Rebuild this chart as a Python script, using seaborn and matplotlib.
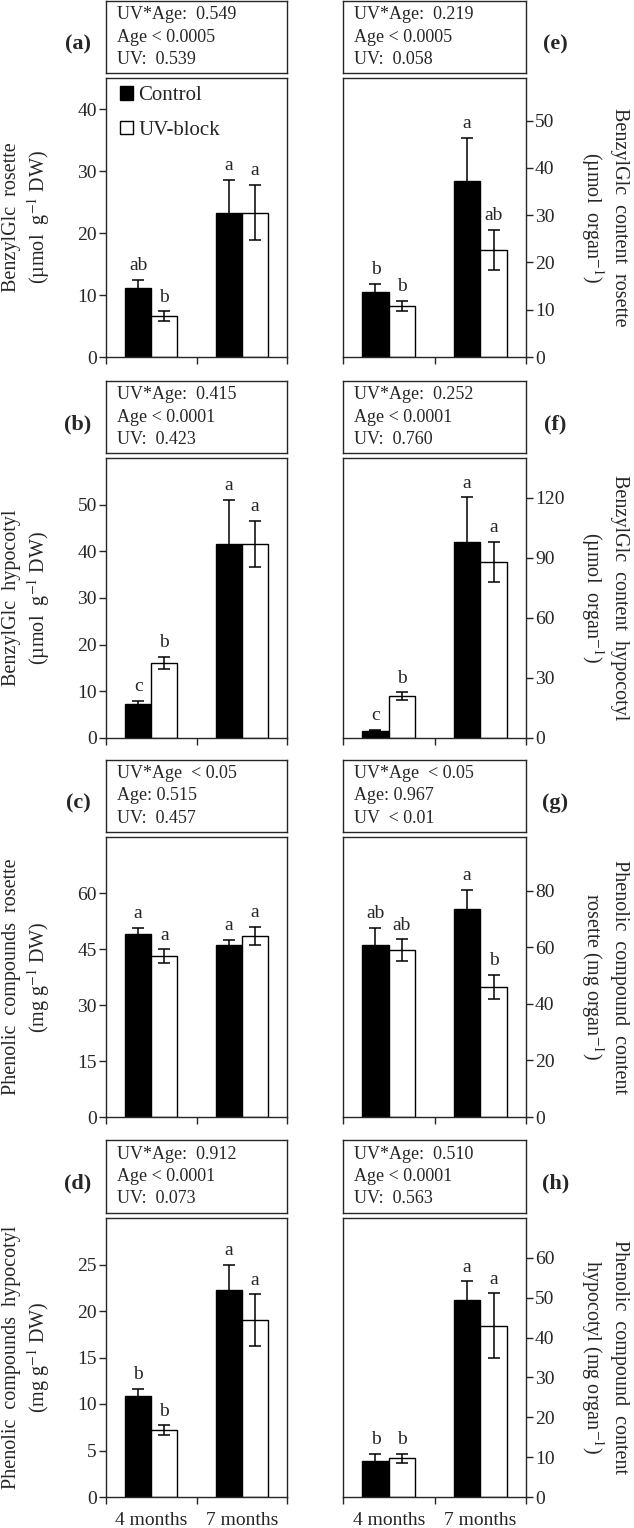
import numpy as np
import pandas as pd
import matplotlib
matplotlib.use("Agg")
import matplotlib.pyplot as plt
import seaborn as sns

sns.set_style("ticks")
plt.rcParams["font.family"] = ["Liberation Serif", "DejaVu Serif"]
plt.rcParams["mathtext.fontset"] = "stix"

ages = ["4 months", "7 months"]
treatments = ["Control", "UV-block"]

# means and error, order: [4 months, 7 months]
a_control, a_uv = [11.2, 23.3], [6.6, 23.3]
a_control_err, a_uv_err = [1.3, 5.3], [0.75, 4.5]
b_control, b_uv = [7.3, 41.6], [16.1, 41.6]
b_control_err, b_uv_err = [0.7, 9.5], [1.25, 4.9]
c_control, c_uv = [48.9, 46.0], [43.1, 48.5]
c_control_err, c_uv_err = [1.8, 1.5], [1.8, 2.4]
d_control, d_uv = [10.9, 22.3], [7.2, 19.0]
d_control_err, d_uv_err = [0.7, 2.7], [0.5, 2.8]
e_control, e_uv = [13.8, 37.3], [10.8, 22.6]
e_control_err, e_uv_err = [1.6, 9.0], [1.0, 4.3]
f_control, f_uv = [3.6, 98.0], [20.8, 88.0]
f_control_err, f_uv_err = [0.3, 22.3], [2.0, 10.0]
g_control, g_uv = [60.8, 73.6], [59.0, 46.0]
g_control_err, g_uv_err = [6.0, 6.6], [3.8, 4.3]
h_control, h_uv = [9.0, 49.5], [9.7, 43.0]
h_control_err, h_uv_err = [1.75, 4.6], [1.1, 8.1]

# significance letters: [control 4m, control 7m], [uv 4m, uv 7m]
a_letters = (["ab", "a"], ["b", "a"])
b_letters = (["c", "a"], ["b", "a"])
c_letters = (["a", "a"], ["a", "a"])
d_letters = (["b", "a"], ["b", "a"])
e_letters = (["b", "a"], ["b", "ab"])
f_letters = (["c", "a"], ["b", "a"])
g_letters = (["ab", "a"], ["ab", "b"])
h_letters = (["b", "a"], ["b", "a"])

a_stats = "UV*Age:  0.549\nAge < 0.0005\nUV:  0.539"
b_stats = "UV*Age:  0.415\nAge < 0.0001\nUV:  0.423"
c_stats = "UV*Age  < 0.05\nAge: 0.515\nUV:  0.457"
d_stats = "UV*Age:  0.912\nAge < 0.0001\nUV:  0.073"
e_stats = "UV*Age:  0.219\nAge < 0.0005\nUV:  0.058"
f_stats = "UV*Age:  0.252\nAge < 0.0001\nUV:  0.760"
g_stats = "UV*Age  < 0.05\nAge: 0.967\nUV  < 0.01"
h_stats = "UV*Age:  0.510\nAge < 0.0001\nUV:  0.563"

a_ylabel = "BenzylGlc  rosette\n(µmol  g$^{-1}$ DW)"
b_ylabel = "BenzylGlc  hypocotyl\n(µmol  g$^{-1}$ DW)"
c_ylabel = "Phenolic  compounds  rosette\n(mg g$^{-1}$ DW)"
d_ylabel = "Phenolic  compounds  hypocotyl\n(mg g$^{-1}$ DW)"
e_ylabel = "BenzylGlc  content  rosette\n(µmol  organ$^{-1}$)"
f_ylabel = "BenzylGlc  content  hypocotyl\n(µmol  organ$^{-1}$)"
g_ylabel = "Phenolic  compound  content\nrosette (mg organ$^{-1}$)"
h_ylabel = "Phenolic  compound  content\nhypocotyl (mg organ$^{-1}$)"

a_yticks, a_ymax = np.arange(0, 41, 10), 45
b_yticks, b_ymax = np.arange(0, 51, 10), 60
c_yticks, c_ymax = np.arange(0, 61, 15), 75
d_yticks, d_ymax = np.arange(0, 26, 5), 30
e_yticks, e_ymax = np.arange(0, 51, 10), 59
f_yticks, f_ymax = np.arange(0, 121, 30), 140
g_yticks, g_ymax = np.arange(0, 81, 20), 99
h_yticks, h_ymax = np.arange(0, 61, 10), 70

panels = [
    ("a", a_control, a_uv, a_control_err, a_uv_err, a_letters, a_stats, a_ylabel, a_yticks, a_ymax),
    ("b", b_control, b_uv, b_control_err, b_uv_err, b_letters, b_stats, b_ylabel, b_yticks, b_ymax),
    ("c", c_control, c_uv, c_control_err, c_uv_err, c_letters, c_stats, c_ylabel, c_yticks, c_ymax),
    ("d", d_control, d_uv, d_control_err, d_uv_err, d_letters, d_stats, d_ylabel, d_yticks, d_ymax),
    ("e", e_control, e_uv, e_control_err, e_uv_err, e_letters, e_stats, e_ylabel, e_yticks, e_ymax),
    ("f", f_control, f_uv, f_control_err, f_uv_err, f_letters, f_stats, f_ylabel, f_yticks, f_ymax),
    ("g", g_control, g_uv, g_control_err, g_uv_err, g_letters, g_stats, g_ylabel, g_yticks, g_ymax),
    ("h", h_control, h_uv, h_control_err, h_uv_err, h_letters, h_stats, h_ylabel, h_yticks, h_ymax),
]

W, H = 634, 1528
fig = plt.figure(figsize=(W / 100, H / 100), dpi=100)

# pixel layout: (stats top, stats bottom, plot top, plot bottom) per row
rows_px = [(1, 73, 78, 357), (381, 453, 458, 738), (760, 832, 837, 1117), (1140, 1213, 1218, 1497)]
cols_px = [(106, 287), (343, 526)]


def px_axes(x0, x1, y0, y1):
    return fig.add_axes([x0 / W, 1 - y1 / H, (x1 - x0) / W, (y1 - y0) / H])


for i, (key, ctl, uv, ctl_err, uv_err, letters, stats, ylabel, yticks, ymax) in enumerate(panels):
    col, row = divmod(i, 4)
    x0, x1 = cols_px[col]
    s0, s1, p0, p1 = rows_px[row]

    # stats box
    ax_s = px_axes(x0, x1, s0, s1)
    ax_s.set_xticks([])
    ax_s.set_yticks([])
    for sp in ax_s.spines.values():
        sp.set_linewidth(1.0)
    ax_s.text(0.06, 0.5, stats, transform=ax_s.transAxes, ha="left", va="center",
              fontsize=13, linespacing=1.4)
    lab_x = -0.155 if col == 0 else 1.16
    ax_s.text(lab_x, 0.4, f"({key})", transform=ax_s.transAxes, ha="center", va="center",
              fontsize=16, fontweight="bold")

    # bar plot
    ax = px_axes(x0, x1, p0, p1)
    df = pd.DataFrame({
        "age": ages * 2,
        "treatment": [treatments[0]] * 2 + [treatments[1]] * 2,
        "value": list(ctl) + list(uv),
    })
    sns.barplot(data=df, x="age", y="value", hue="treatment", hue_order=treatments,
                order=ages, palette={"Control": "black", "UV-block": "white"},
                edgecolor="black", linewidth=1.0, width=0.58, errorbar=None,
                legend=(key == "a"), ax=ax)

    for cont, means, errs, labs in zip(ax.containers, [ctl, uv], [ctl_err, uv_err], letters):
        xs = [p.get_x() + p.get_width() / 2 for p in cont]
        ax.errorbar(xs, means, yerr=errs, fmt="none", ecolor="black", elinewidth=1.1,
                    capsize=4, capthick=1.1, zorder=3)
        for x, m, e, lab in zip(xs, means, errs, labs):
            ax.annotate(lab, (x, m + e), xytext=(0, 7), textcoords="offset points",
                        ha="center", va="baseline", fontsize=14)

    if key == "a":
        sns.move_legend(ax, "upper left", bbox_to_anchor=(0.01, 1.015), frameon=False,
                        title=None, fontsize=15, handlelength=0.6, handleheight=0.6,
                        handletextpad=0.25, labelspacing=0.75, borderaxespad=0.2)

    ax.set_xlim(-0.5, 1.5)
    ax.set_ylim(0, ymax)
    ax.set_yticks(yticks)
    ax.set_xticks([0, 1])
    ax.set_xticks([-0.5, 0.5, 1.5], minor=True)
    ax.set_xticklabels(ages if row == 3 else ["", ""])
    ax.tick_params(axis="x", which="major", length=0, pad=11, labelsize=14)
    ax.tick_params(axis="x", which="minor", length=5, width=1.0, direction="out")
    ax.set_xlabel("")
    ax.set_ylabel("")
    for sp in ax.spines.values():
        sp.set_visible(True)
        sp.set_linewidth(1.0)
    if col == 0:
        ax.tick_params(axis="y", length=5, width=1.0, direction="out", pad=1.5, labelsize=14)
        fig.text(27 / W, 1 - (p0 + p1) / 2 / H, ylabel, rotation=90, ha="center", va="center",
                 multialignment="center", fontsize=14.5, linespacing=1.25)
    else:
        ax.yaxis.tick_right()
        ax.tick_params(axis="y", left=False, right=True, labelleft=False, labelright=True,
                       length=5, width=1.0, direction="out", pad=1.5, labelsize=14)
        fig.text(604 / W, 1 - (p0 + p1) / 2 / H, ylabel, rotation=-90, ha="center", va="center",
                 multialignment="center", fontsize=14.5, linespacing=1.25)

fig.savefig("out.png", dpi=100)
